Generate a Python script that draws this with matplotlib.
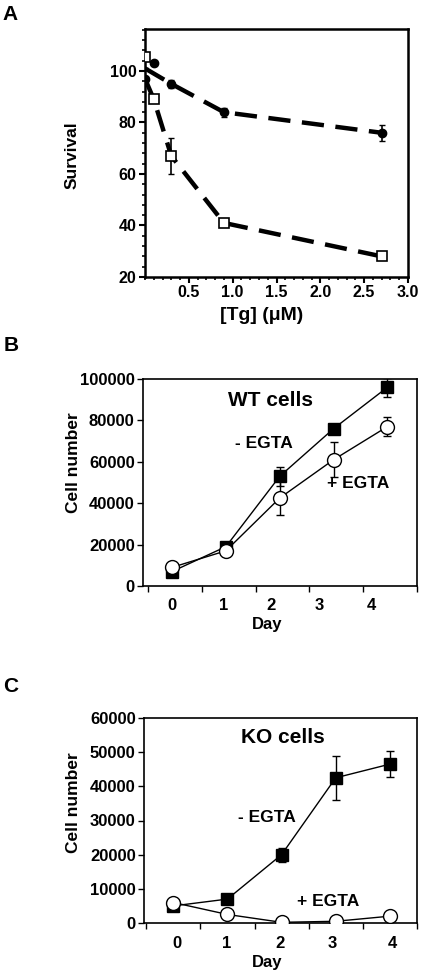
import numpy as np
import matplotlib
matplotlib.use('Agg')
import matplotlib.pyplot as plt
from matplotlib.ticker import MultipleLocator, FixedLocator, NullFormatter

plt.rcParams['font.family'] = ['Liberation Sans', 'DejaVu Sans']
plt.rcParams['font.weight'] = 'bold'

# panel A: survival vs thapsigargin
tg_filled = [0, 0.3, 0.9, 2.7]
surv_filled = [101, 95, 84, 76]
err_filled = [0, 1.5, 1.8, 3]
tg_open = [0, 0.1, 0.3, 0.9, 2.7]
surv_open = [97, 89, 67, 41, 28]
err_open = [0, 0, 7, 1, 0]
stray_open = (0, 105.5)
stray_filled = [(0.1, 103), (0, 97)]

# panel B: WT cells
days = [0, 1, 2, 3, 4]
wt_minus = [7000, 19000, 53000, 76000, 96000]
wt_minus_err = [0, 0, 4500, 0, 4500]
wt_plus = [9000, 17000, 42500, 61000, 77000]
wt_plus_err = [0, 0, 8000, 8500, 4500]

# panel C: KO cells
ko_minus = [5000, 7000, 20000, 42500, 46500]
ko_minus_err = [0, 0, 2000, 6500, 3800]
ko_plus = [6000, 2500, 200, 500, 2000]
ko_plus_err = [0, 0, 0, 0, 0]

W, H = 425, 975
fig = plt.figure(figsize=(W / 100, H / 100), dpi=100)


def box(left, top, right, bottom):
    return [left / W, 1 - bottom / H, (right - left) / W, (bottom - top) / H]


def ftext(x, y, s, **kw):
    fig.text(x / W, 1 - y / H, s, ha='center', va='center', fontweight='bold', **kw)


# ---------- A ----------
ax = fig.add_axes(box(145, 29, 408, 277))
ax.errorbar(tg_open, surv_open, yerr=err_open, color='black', lw=3.2,
            dashes=(5, 2.6), ecolor='black', elinewidth=1.2, capsize=2.5, zorder=2)
ax.plot(tg_open[1:], surv_open[1:], 's', ms=7.5, mfc='white', mec='black', mew=1.2, zorder=4)
ax.plot([stray_open[0]], [stray_open[1]], 's', ms=7.5, mfc='white', mec='black', mew=1.2, zorder=4)
ax.errorbar(tg_filled, surv_filled, yerr=err_filled, color='black', lw=3.2,
            dashes=(5, 2.6), ecolor='black', elinewidth=1.2, capsize=2.5, zorder=3)
ax.plot(tg_filled[1:], surv_filled[1:], 'o', ms=6, color='black', zorder=4)
ax.plot([p[0] for p in stray_filled], [p[1] for p in stray_filled], 'o', ms=6, color='black', zorder=4)
ax.set_xlim(0, 3.0)
ax.set_ylim(20, 116.3)
ax.xaxis.set_major_locator(FixedLocator([0.5, 1.0, 1.5, 2.0, 2.5, 3.0]))
ax.xaxis.set_minor_locator(MultipleLocator(0.1))
ax.yaxis.set_major_locator(MultipleLocator(20))
ax.yaxis.set_minor_locator(MultipleLocator(4))
ax.set_xticklabels(['0.5', '1.0', '1.5', '2.0', '2.5', '3.0'])
ax.tick_params(axis='both', which='major', direction='out', length=4, width=1.5,
               labelsize=11.5, pad=2)
ax.tick_params(axis='both', which='minor', direction='out', length=2.5, width=1.2)
for lab in ax.get_xticklabels() + ax.get_yticklabels():
    lab.set_fontweight('bold')
for s in ax.spines.values():
    s.set_linewidth(1.8)
ftext(72, 155, 'Survival', fontsize=12.5, rotation=90)
ftext(262, 315, '[Tg] (\u03bcM)', fontsize=14)
ftext(10, 14, 'A', fontsize=15)


def growth(top, bottom, left, right, xlo, off, lab_pos, ymax, ystep, minus, minus_err,
           plus, plus_err, title, tpos, mpos, ppos, ylab_y, xlab_y, letter_y):
    ax = fig.add_axes(box(left, top, right, bottom))
    x = np.array(days) + off
    ax.errorbar(x, plus, yerr=plus_err, color='black', lw=1, ecolor='black',
                elinewidth=1, capsize=3, zorder=2)
    ax.plot(x, plus, 'o', ms=10, mfc='white', mec='black', mew=1, zorder=5)
    ax.errorbar(x, minus, yerr=minus_err, color='black', lw=1, ecolor='black',
                elinewidth=1, capsize=3, zorder=3)
    ax.plot(x, minus, 's', ms=9, color='black', zorder=4)
    ax.set_xlim(xlo, 5.0)
    ax.set_ylim(0, ymax)
    ax.xaxis.set_major_locator(FixedLocator([0, 1, 2, 3, 4, 5]))
    ax.xaxis.set_major_formatter(NullFormatter())
    ax.xaxis.set_minor_locator(FixedLocator(lab_pos))
    ax.set_xticklabels([str(d) for d in days], minor=True)
    ax.yaxis.set_major_locator(MultipleLocator(ystep))
    ax.tick_params(axis='x', which='major', direction='out', length=4, width=1)
    ax.tick_params(axis='x', which='minor', length=0, labelsize=12, pad=9)
    ax.tick_params(axis='y', direction='out', length=4, width=1, labelsize=12, pad=2)
    for lab in ax.get_xticklabels(minor=True) + ax.get_yticklabels():
        lab.set_fontweight('bold')
    for s in ax.spines.values():
        s.set_linewidth(1.2)
    ax.text(tpos[0], tpos[1], title, transform=ax.transAxes, ha='center', va='center',
            fontsize=15, fontweight='bold')
    ax.text(mpos[0], mpos[1], '- EGTA', transform=ax.transAxes, ha='center', va='center',
            fontsize=12.5, fontweight='bold')
    ax.text(ppos[0], ppos[1], '+ EGTA', transform=ax.transAxes, ha='center', va='center',
            fontsize=12.5, fontweight='bold')
    ftext(73, ylab_y, 'Cell number', fontsize=12.5, rotation=90)
    ftext(267, xlab_y, 'Day', fontsize=12)
    ftext(11, letter_y, letter, fontsize=15)
    return ax


letter = 'B'
growth(379, 586, 143, 417, -0.09, 0.45, [0.44, 1.41, 2.29, 3.19, 4.15], 100000, 20000,
       wt_minus, wt_minus_err, wt_plus, wt_plus_err, 'WT cells',
       (0.467, 0.894), (0.442, 0.686), (0.785, 0.493), 463, 625, 345)
letter = 'C'
growth(718, 923, 144, 417, -0.04, 0.5, [0.57, 1.48, 2.47, 3.43, 4.55], 60000, 10000,
       ko_minus, ko_minus_err, ko_plus, ko_plus_err, 'KO cells',
       (0.509, 0.907), (0.45, 0.517), (0.674, 0.107), 803, 963, 687)

fig.savefig('out.png', dpi=100)
